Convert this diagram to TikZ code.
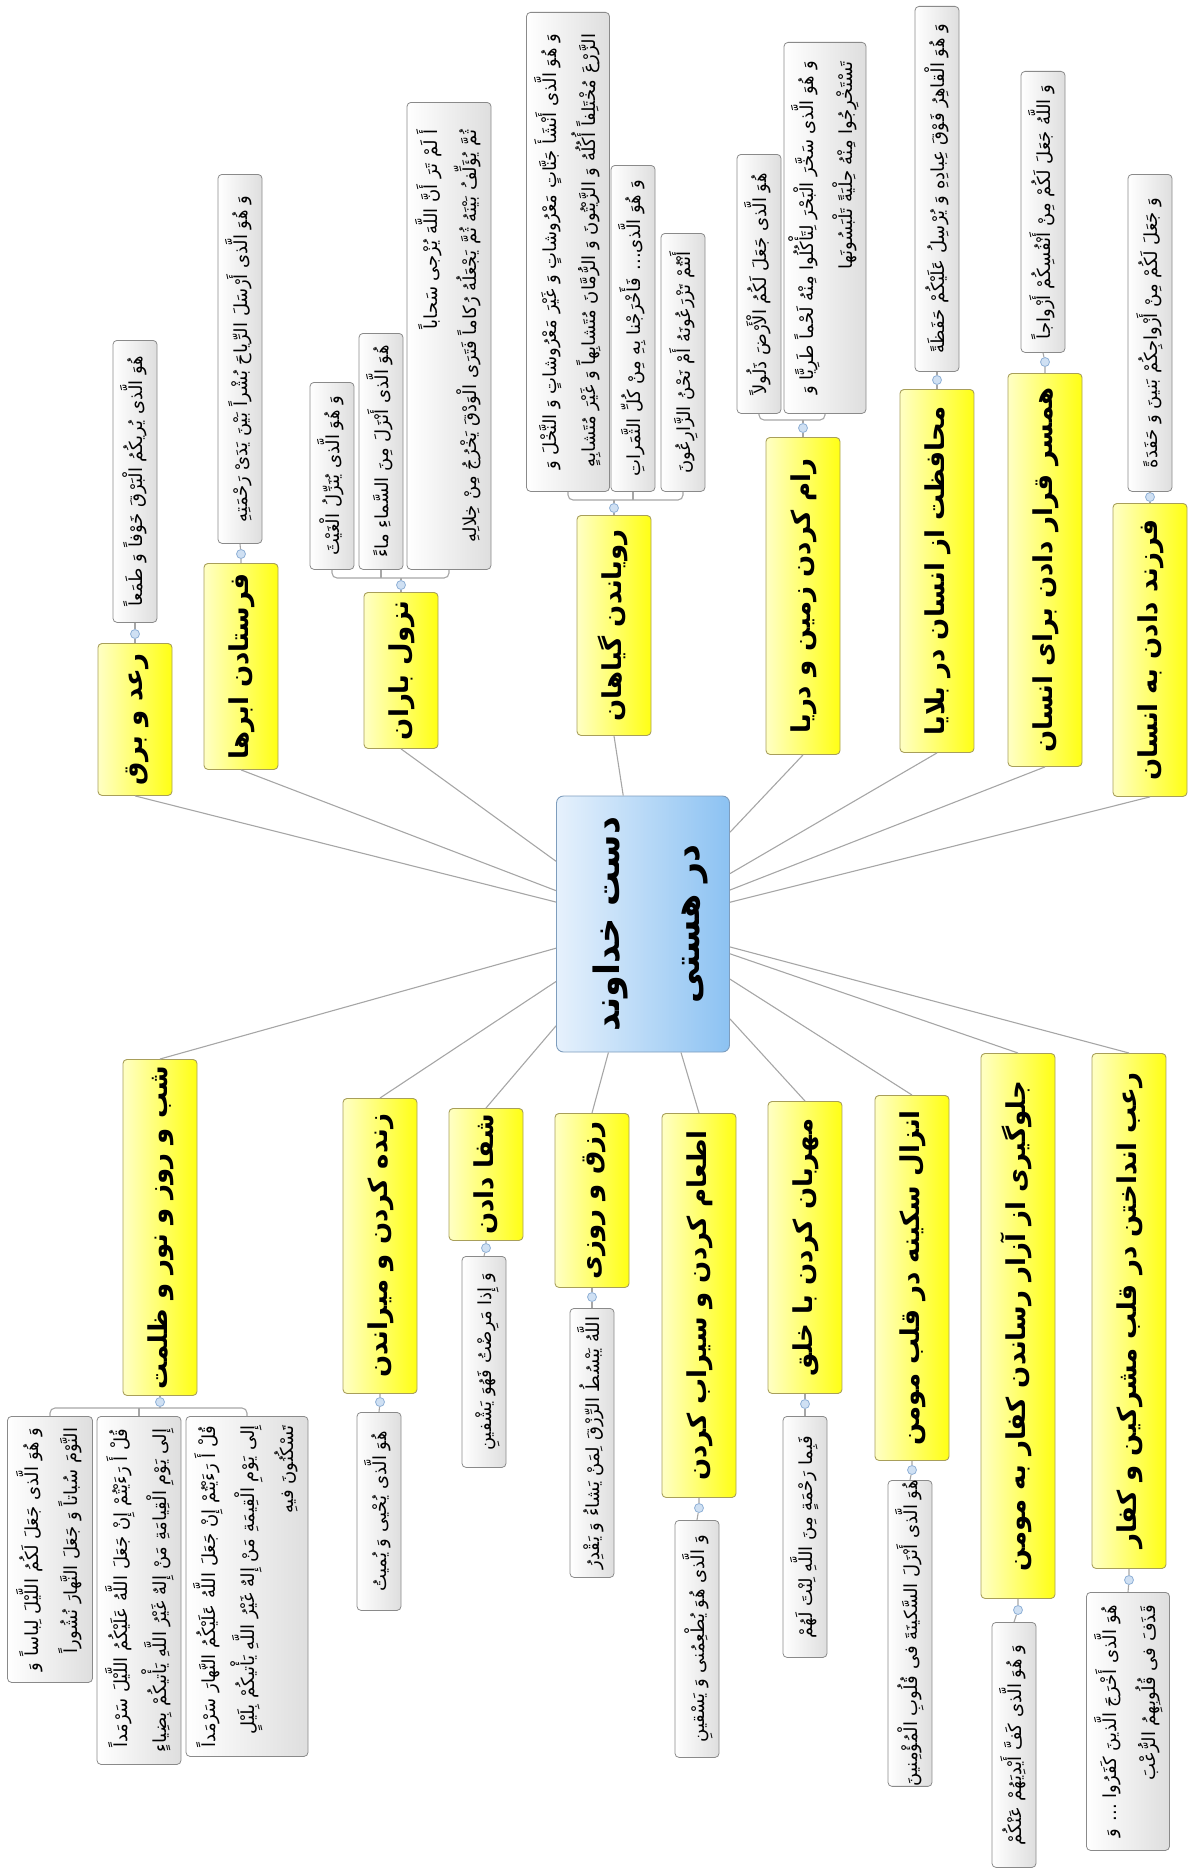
\documentclass[tikz,border=0pt]{standalone}
\usepackage{fontspec}
\usepackage{graphicx}
\newfontfamily\fafont[Script=Arabic]{DejaVu Sans}
\TeXXeTstate=1
\newcommand{\rl}[1]{\beginR #1\endR}
\newcommand{\vt}[2][r]{\rotatebox{90}{\begin{tabular}{@{}#1@{}}#2\end{tabular}}}
\definecolor{linkgray}{HTML}{A6A6A6}
\definecolor{rootA}{HTML}{E6F1FC}
\definecolor{rootB}{HTML}{8CC2F2}
\definecolor{rootline}{HTML}{7E9DBD}
\definecolor{topicA}{HTML}{FFFFC4}
\definecolor{topicB}{HTML}{FFFF14}
\definecolor{topicline}{HTML}{A89F5A}
\definecolor{leafB}{HTML}{DEDEDE}
\definecolor{leafline}{HTML}{8A8A8A}
\definecolor{knobfill}{HTML}{CFE0F3}
\definecolor{knobline}{HTML}{8FB0D6}
\tikzset{
  link/.style={draw=linkgray, line width=1.1pt},
  brk/.style={link, rounded corners=5pt},
  root/.style={draw=rootline, line width=0.9pt, rounded corners=7pt, left color=rootA, right color=rootB,
    minimum width=173pt, minimum height=256pt, inner sep=0pt, font=\fafont\bfseries\fontsize{35}{80}\selectfont},
  topic/.style={draw=topicline, line width=0.9pt, rounded corners=4pt, left color=topicA, right color=topicB,
    minimum width=74pt, inner sep=0pt, anchor=north, font=\fafont\bfseries\fontsize{26}{38}\selectfont},
  leaf/.style={draw=leafline, line width=0.8pt, rounded corners=4pt, left color=white, right color=leafB,
    minimum width=44pt, inner sep=0pt, anchor=north, font=\fafont\fontsize{18}{39}\selectfont},
  knob/.style={circle, draw=knobline, fill=knobfill, line width=0.8pt, minimum size=9pt, inner sep=0pt},
}
\begin{document}
\begin{tikzpicture}[x=1pt,y=-1pt]
\useasboundingbox (0,0) rectangle (1192,1876);
% central topic
\node[root] (root) at (643,924) {\vt[c]{\rl{دست خداوند}\\\rl{در هستی}}};
% main topics, upper row
\node[topic, minimum height=152] (t1) at (135,643) {\vt{\rl{رعد و برق}}};
\node[topic, minimum height=206] (t2) at (241,563) {\vt{\rl{فرستادن ابرها}}};
\node[topic, minimum height=156] (t3) at (401,592) {\vt{\rl{نزول باران}}};
\node[topic, minimum height=220] (t4) at (614,515) {\vt{\rl{رویاندن گیاهان}}};
\node[topic, minimum height=317] (t5) at (803,437) {\vt{\rl{رام کردن زمین و دریا}}};
\node[topic, minimum height=363] (t6) at (937,389) {\vt{\rl{محافظت از انسان در بلایا}}};
\node[topic, minimum height=393] (t7) at (1045,373) {\vt{\rl{همسر قرار دادن برای انسان}}};
\node[topic, minimum height=293] (t8) at (1150,503) {\vt{\rl{فرزند دادن به انسان}}};
% main topics, lower row
\node[topic, minimum height=336] (b1) at (160,1059) {\vt{\rl{شب و روز و نور و ظلمت}}};
\node[topic, minimum height=295] (b2) at (380,1098) {\vt{\rl{زنده کردن و میراندن}}};
\node[topic, minimum height=132] (b3) at (486,1108) {\vt{\rl{شفا دادن}}};
\node[topic, minimum height=174] (b4) at (592,1113) {\vt{\rl{رزق و روزی}}};
\node[topic, minimum height=384] (b5) at (699,1113) {\vt{\rl{اطعام کردن و سیراب کردن}}};
\node[topic, minimum height=292] (b6) at (805,1101) {\vt{\rl{مهربان کردن با خلق}}};
\node[topic, minimum height=365] (b7) at (912,1095) {\vt{\rl{انزال سکینه در قلب مومن}}};
\node[topic, minimum height=545] (b8) at (1018,1053) {\vt{\rl{جلوگیری از آزار رساندن کفار به مومن}}};
\node[topic, minimum height=515] (b9) at (1129,1053) {\vt{\rl{رعب انداختن در قلب مشرکین و کفار}}};
% branches
\draw[link] (root) -- (t1.south);
\draw[link] (root) -- (t2.south);
\draw[link] (root) -- (t3.south);
\draw[link] (root) -- (t4.south);
\draw[link] (root) -- (t5.south);
\draw[link] (root) -- (t6.south);
\draw[link] (root) -- (t7.south);
\draw[link] (root) -- (t8.south);
\draw[link] (root) -- (b1.north);
\draw[link] (root) -- (b2.north);
\draw[link] (root) -- (b3.north);
\draw[link] (root) -- (b4.north);
\draw[link] (root) -- (b5.north);
\draw[link] (root) -- (b6.north);
\draw[link] (root) -- (b7.north);
\draw[link] (root) -- (b8.north);
\draw[link] (root) -- (b9.north);
% verses, upper row
\node[leaf, minimum height=282] (lt1) at (135,340) {\vt{\rl{هُوَ الَّذی یُریکُمُ الْبَرْقَ خَوْفاً وَ طَمَعاً}}};
\node[leaf, minimum height=369] (lt2) at (240,174) {\vt{\rl{وَ هُوَ الَّذی أَرْسَلَ الرِّیاحَ بُشْراً بَیْنَ یَدَیْ رَحْمَتِهِ}}};
\node[leaf, minimum height=187] (lt3a) at (332,382) {\vt{\rl{وَ هُوَ الَّذی یُنَزِّلُ الْغَیْثَ}}};
\node[leaf, minimum height=236] (lt3b) at (381,333) {\vt{\rl{هُوَ الَّذی أَنْزَلَ مِنَ السَّماءِ ماءً}}};
\node[leaf, minimum width=84, minimum height=467] (lt3c) at (449,102) {\vt{\rl{أَ لَمْ تَرَ أَنَّ اللَّهَ یُزْجی سَحاباً}\\\rl{ثُمَّ یُؤَلِّفُ بَیْنَهُ ثُمَّ یَجْعَلُهُ رُکاماً فَتَرَی الْوَدْقَ یَخْرُجُ مِنْ خِلالِهِ}}};
\node[leaf, minimum width=83, minimum height=479] (lt4a) at (568,12) {\vt{\rl{وَ هُوَ الَّذی أَنْشَأَ جَنَّاتٍ مَعْرُوشاتٍ وَ غَیْرَ مَعْرُوشاتٍ وَ النَّخْلَ وَ}\\\rl{الزَّرْعَ مُخْتَلِفاً أُکُلُهُ وَ الزَّیْتُونَ وَ الرُّمَّانَ مُتَشابِهاً وَ غَیْرَ مُتَشابِهٍ}}};
\node[leaf, minimum height=326] (lt4b) at (633,165) {\vt{\rl{وَ هُوَ الَّذی... فَأَخْرَجْنا بِهِ مِنْ کُلِّ الثَّمَراتِ}}};
\node[leaf, minimum height=258] (lt4c) at (683,233) {\vt{\rl{أَنْتُمْ تَزْرَعُونَهُ أَمْ نَحْنُ الزَّارِعُونَ}}};
\node[leaf, minimum height=259] (lt5a) at (759,154) {\vt{\rl{هُوَ الَّذی جَعَلَ لَکُمُ الْأَرْضَ ذَلُولاً}}};
\node[leaf, minimum width=82, minimum height=371] (lt5b) at (825,42) {\vt{\rl{وَ هُوَ الَّذی سَخَّرَ الْبَحْرَ لِتَأْکُلُوا مِنْهُ لَحْماً طَرِیًّا وَ}\\\rl{تَسْتَخْرِجُوا مِنْهُ حِلْیَةً تَلْبَسُونَها}}};
\node[leaf, minimum height=365] (lt6) at (937,6) {\vt{\rl{وَ هُوَ الْقاهِرُ فَوْقَ عِبادِهِ وَ یُرْسِلُ عَلَیْکُمْ حَفَظَةً}}};
\node[leaf, minimum height=281] (lt7) at (1043,71) {\vt{\rl{وَ اللَّهُ جَعَلَ لَکُمْ مِنْ أَنْفُسِکُمْ أَزْواجاً}}};
\node[leaf, minimum height=317] (lt8) at (1150,174) {\vt{\rl{وَ جَعَلَ لَکُمْ مِنْ أَزْواجِکُمْ بَنینَ وَ حَفَدَةً}}};
% verses, lower row
\node[leaf, minimum width=85, minimum height=266] (lb1a) at (50,1416) {\vt{\rl{وَ هُوَ الَّذی جَعَلَ لَکُمُ اللَّیْلَ لِباساً وَ}\\\rl{النَّوْمَ سُباتاً وَ جَعَلَ النَّهارَ نُشُوراً}}};
\node[leaf, minimum width=84, minimum height=348] (lb1b) at (139,1416) {\vt{\rl{قُلْ أَ رَءَیْتُمْ إِنْ جَعَلَ اللَّهُ عَلَیْکُمُ اللَّیْلَ سَرْمَداً}\\\rl{إِلی یَوْمِ الْقِیامَةِ مَنْ إِلهٌ غَیْرُ اللَّهِ یَأْتیکُمْ بِضِیاءٍ}}};
\node[leaf, minimum width=122, minimum height=340] (lb1c) at (247,1416) {\vt{\rl{قُلْ أَ رَءَیْتُمْ إِنْ جَعَلَ اللَّهُ عَلَیْکُمُ النَّهارَ سَرْمَداً}\\\rl{إِلی یَوْمِ الْقِیمَةِ مَنْ إِلهٌ غَیْرُ اللَّهِ یَأْتیکُمْ بِلَیْلٍ}\\\rl{تَسْکُنُونَ فیهِ}}};
\node[leaf, minimum height=198] (lb2) at (379,1412) {\vt{\rl{هُوَ الَّذی یُحْیی وَ یُمیتُ}}};
\node[leaf, minimum height=211] (lb3) at (484,1256) {\vt{\rl{وَ إِذا مَرِضْتُ فَهُوَ یَشْفینِ}}};
\node[leaf, minimum height=269] (lb4) at (592,1308) {\vt{\rl{اللَّهُ یَبْسُطُ الرِّزْقَ لِمَنْ یَشاءُ وَ یَقْدِرُ}}};
\node[leaf, minimum height=237] (lb5) at (697,1520) {\vt{\rl{وَ الَّذی هُوَ یُطْعِمُنی وَ یَسْقینِ}}};
\node[leaf, minimum height=241] (lb6) at (805,1416) {\vt{\rl{فَبِما رَحْمَةٍ مِنَ اللَّهِ لِنْتَ لَهُمْ}}};
\node[leaf, minimum height=303] (lb7) at (910,1480) {\vt{\rl{هُوَ الَّذی أَنْزَلَ السَّکینَةَ فی قُلُوبِ الْمُؤْمِنینَ}}};
\node[leaf, minimum height=245] (lb8) at (1014,1622) {\vt{\rl{وَ هُوَ الَّذی کَفَّ أَیْدِیَهُمْ عَنْکُمْ}}};
\node[leaf, minimum width=83, minimum height=258] (lb9) at (1128,1592) {\vt{\rl{هُوَ الَّذی أَخْرَجَ الَّذینَ کَفَرُوا ... وَ}\\\rl{قَذَفَ فی قُلُوبِهِمُ الرُّعْبَ}}};
% knobs
\node[knob] (kt1) at (135,634) {};
\node[knob] (kt2) at (241,554) {};
\node[knob] (kt3) at (401,585) {};
\node[knob] (kt4) at (614,508) {};
\node[knob] (kt5) at (803,428) {};
\node[knob] (kt6) at (937,380) {};
\node[knob] (kt7) at (1045,362) {};
\node[knob] (kt8) at (1150,497) {};
\node[knob] (kb1) at (160,1402) {};
\node[knob] (kb2) at (380,1402) {};
\node[knob] (kb3) at (486,1248) {};
\node[knob] (kb4) at (592,1297) {};
\node[knob] (kb5) at (699,1508) {};
\node[knob] (kb6) at (805,1404) {};
\node[knob] (kb7) at (912,1470) {};
\node[knob] (kb8) at (1018,1610) {};
\node[knob] (kb9) at (1129,1580) {};
\coordinate (jt3) at (401,578);
\coordinate (jt4) at (614,500);
\coordinate (jt5) at (803,420);
\coordinate (jb1) at (160,1408);
% topic to verse
\draw[link] (t1.north) -- (kt1) -- (lt1.south);
\draw[link] (t2.north) -- (kt2) -- (lt2.south);
\draw[link] (t3.north) -- (kt3) -- (jt3);
\draw[brk] (lt3a.south) |- (jt3) -| (lt3c.south);
\draw[link] (lt3b.south) -- (lt3b.south |- jt3);
\draw[link] (t4.north) -- (kt4) -- (jt4);
\draw[brk] (lt4a.south) |- (jt4) -| (lt4c.south);
\draw[link] (lt4b.south) -- (lt4b.south |- jt4);
\draw[link] (t5.north) -- (kt5) -- (jt5);
\draw[brk] (lt5a.south) |- (jt5) -| (lt5b.south);
\draw[link] (t6.north) -- (kt6) -- (lt6.south);
\draw[link] (t7.north) -- (kt7) -- (lt7.south);
\draw[link] (t8.north) -- (kt8) -- (lt8.south);
\draw[link] (b1.south) -- (kb1) -- (jb1);
\draw[brk] (lb1a.north) |- (jb1) -| (lb1c.north);
\draw[link] (lb1b.north) -- (lb1b.north |- jb1);
\draw[link] (b2.south) -- (kb2) -- (lb2.north);
\draw[link] (b3.south) -- (kb3) -- (lb3.north);
\draw[link] (b4.south) -- (kb4) -- (lb4.north);
\draw[link] (b5.south) -- (kb5) -- (lb5.north);
\draw[link] (b6.south) -- (kb6) -- (lb6.north);
\draw[link] (b7.south) -- (kb7) -- (lb7.north);
\draw[link] (b8.south) -- (kb8) -- (lb8.north);
\draw[link] (b9.south) -- (kb9) -- (lb9.north);
\end{tikzpicture}
\end{document}
